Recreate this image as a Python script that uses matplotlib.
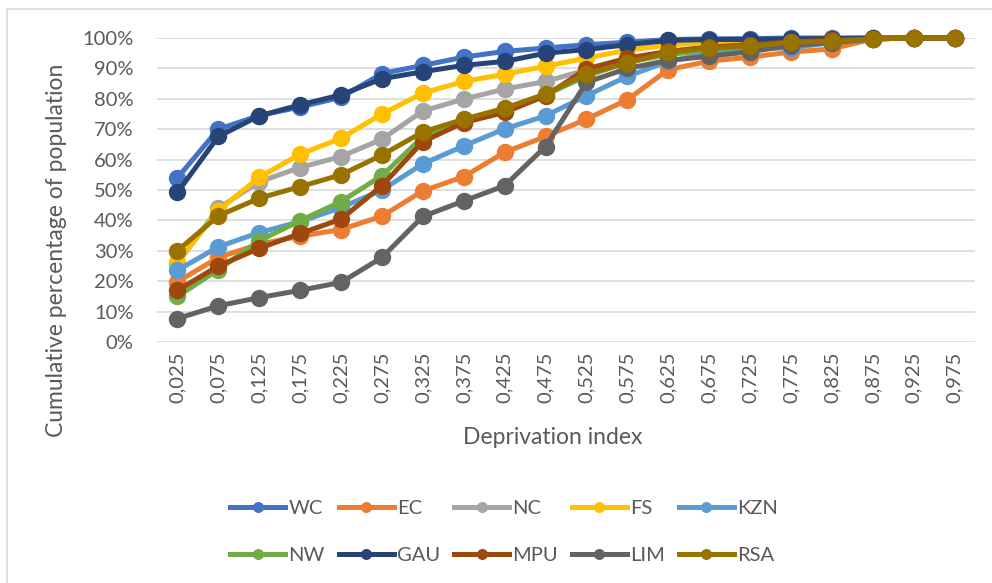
import matplotlib
matplotlib.use("Agg")
import matplotlib.pyplot as plt
from matplotlib.patches import Rectangle
from matplotlib.ticker import FuncFormatter

# -------------------------------
# Data
# -------------------------------
index_labels = ["0,025", "0,075", "0,125", "0,175", "0,225", "0,275", "0,325",
                "0,375", "0,425", "0,475", "0,525", "0,575", "0,625", "0,675",
                "0,725", "0,775", "0,825", "0,875", "0,925", "0,975"]

WC = [54, 70, 74.5, 77.3, 80.5, 88.3, 91, 93.7, 95.6, 96.7, 97.8, 98.6, 99.5, 99.7, 99.8, 100, 100, 100, 100, 100]
EC = [19.8, 27.8, 32.2, 34.8, 37, 41.4, 49.7, 54.4, 62.4, 67.6, 73.3, 79.7, 89.6, 92.4, 93.7, 95.4, 96.4, 99.7, 100, 100]
NC = [25.8, 44, 52.7, 57.4, 61, 66.7, 76, 79.9, 83.2, 85.7, 89.5, 93, 95.5, 97, 98, 98.8, 99.5, 100, 100, 100]
FS = [26.4, 43.2, 54.2, 61.8, 67, 75, 81.9, 85.7, 88.1, 90.7, 93.4, 96, 97.7, 98.5, 99, 99.3, 99.7, 100, 100, 100]
KZN = [23.6, 31.3, 36, 39.6, 44.2, 50, 58.6, 64.5, 70.1, 74.4, 81, 87.4, 92.3, 95, 96.5, 96.8, 98.5, 99.7, 100, 100]
NW = [15, 23.8, 33.3, 39.9, 46.2, 54.7, 67.5, 72.5, 76.2, 81.3, 87.5, 92, 94.5, 96, 97.3, 98.5, 99.2, 99.7, 100, 100]
GAU = [49.2, 67.6, 74.4, 78, 81.3, 86.6, 88.9, 91, 92.3, 95, 96.2, 97.8, 99.2, 99.5, 99.5, 99.7, 99.8, 100, 100, 100]
MPU = [17, 25, 30.8, 35.7, 40.4, 51.4, 65.9, 72.2, 75.5, 81, 89.8, 93.4, 95.6, 97, 97.8, 98.8, 99.2, 99.7, 100, 100]
LIM = [7.7, 11.9, 14.6, 17, 19.6, 27.8, 41.3, 46.4, 51.4, 64.3, 85.4, 90, 92.6, 94, 95.5, 97.5, 98.5, 99.7, 100, 100]
RSA = [30, 41.5, 47.3, 51.1, 55, 61.5, 69.1, 73.3, 76.9, 81.6, 88.2, 91.8, 95.3, 96.7, 97.3, 98.6, 98.9, 99.7, 100, 100]

series_names = ["WC", "EC", "NC", "FS", "KZN", "NW", "GAU", "MPU", "LIM", "RSA"]
series_values = [WC, EC, NC, FS, KZN, NW, GAU, MPU, LIM, RSA]
series_colors = ["#4472C4", "#ED7D31", "#A5A5A5", "#FFC000", "#5B9BD5",
                 "#70AD47", "#264478", "#9E480E", "#636363", "#997300"]

# -------------------------------
# Figure
# -------------------------------
plt.rcParams['font.family'] = ['Lato', 'DejaVu Sans']
text_col = "#595959"
W, H = 992, 583

fig = plt.figure(figsize=(W / 100, H / 100), dpi=100)
ax = fig.add_axes([157 / W, 1 - 342 / H, (975 - 157) / W, (342 - 38) / H])

x = list(range(len(index_labels)))
handles = []
for name, vals, col in zip(series_names, series_values, series_colors):
    h, = ax.plot(x, vals, color=col, lw=3.6, marker="o", markersize=11.5,
                 markeredgecolor=col, label=name, clip_on=False, zorder=3)
    handles.append(h)

ax.set_xlim(-0.5, len(index_labels) - 0.5)
ax.set_ylim(0, 100)
ax.set_yticks(range(0, 101, 10))
ax.yaxis.set_major_formatter(FuncFormatter(lambda v, p: f"{int(v)}%"))
ax.set_xticks(x)
ax.set_xticklabels(index_labels, rotation=90)

ax.grid(axis="y", color="#D9D9D9", lw=1.2, zorder=0)
ax.set_axisbelow(True)
for s in ax.spines.values():
    s.set_visible(False)
ax.tick_params(axis="both", length=0, labelsize=14.5, colors=text_col)
ax.tick_params(axis="y", pad=17)
ax.tick_params(axis="x", pad=7)

fig.text(57 / W, 1 - 250 / H, "Cumulative percentage of population", rotation=90,
         ha="center", va="center", fontsize=16.5, color=text_col)
fig.text(553 / W, 1 - 437 / H, "Deprivation index", ha="center", va="center",
         fontsize=16.5, color=text_col)

# legend is filled row by row in the original, matplotlib fills by column
order = [0, 5, 1, 6, 2, 7, 3, 8, 4, 9]
leg = fig.legend([handles[i] for i in order], [series_names[i] for i in order],
                 loc="center", bbox_to_anchor=(504 / W, 1 - 532 / H), ncol=5,
                 frameon=False, fontsize=14.5, handlelength=2.73, handletextpad=0.15,
                 columnspacing=0.7, labelspacing=1.45, markerscale=0.6)
for t in leg.get_texts():
    t.set_color(text_col)

# light chart border like the original frame
fig.patches.append(Rectangle((7 / W, -0.1), 1.2, (H - 9) / H + 0.1,
                             transform=fig.transFigure, fill=False,
                             edgecolor="#D9D9D9", lw=1.2))

fig.savefig("out.png", dpi=100)
